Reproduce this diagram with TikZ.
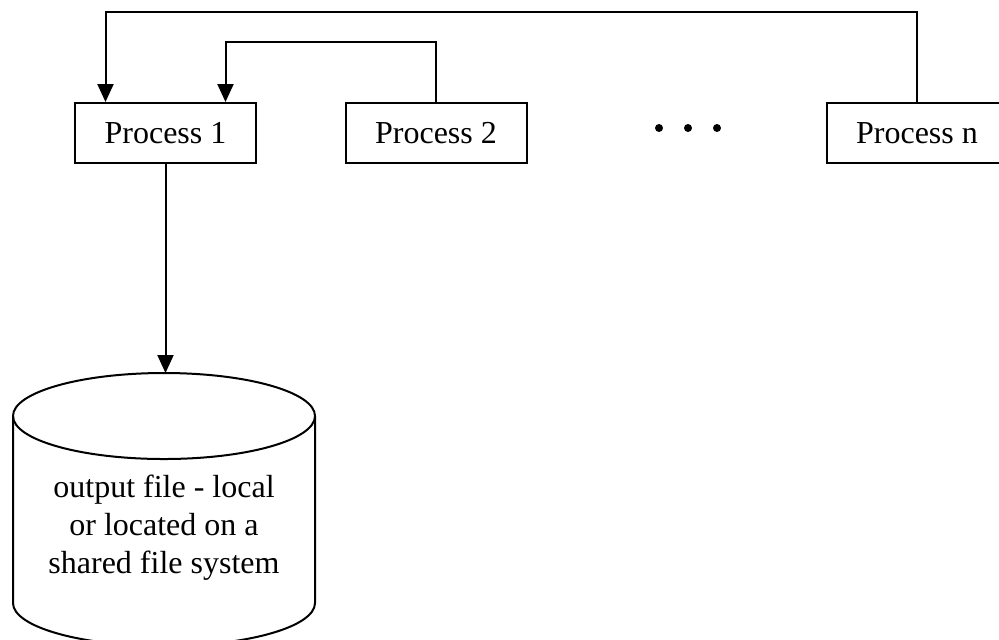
\documentclass[tikz,border=0pt]{standalone}
\usepackage{fontspec}
\setmainfont{Liberation Serif}
\usetikzlibrary{arrows.meta}

\tikzset{
  proc/.style={draw, line width=1pt, minimum width=90.5pt, minimum height=30pt,
    inner sep=0pt, font=\fontsize{16}{19}\selectfont},
  link/.style={line width=1pt, -{Triangle[length=9pt,width=8pt]}},
  store/.style={align=center, font=\fontsize{16}{19}\selectfont}
}

\begin{document}
\begin{tikzpicture}[x=0.5pt, y=-0.5pt]
      \useasboundingbox (0,0) rectangle (999,639);
      \clip (0,0) rectangle (999,639);

      \node[proc] (p1) at (165.5,133) {Process 1};
      \node[proc] (p2) at (436,133) {Process 2};
      \node[proc] (pn) at (917,133) {Process n};

      \fill (659,128) circle (2pt);
      \fill (688,128) circle (2pt);
      \fill (717,128) circle (2pt);

      \draw[link] (pn.north) -- ++(0,-90) -| ([xshift=-30pt]p1.north);
      \draw[link] (p2.north) -- ++(0,-60) -| ([xshift=30pt]p1.north);

      % the output file
      \draw[line width=1pt] (164,416) ellipse [x radius=75.5pt, y radius=21.5pt];
      \draw[line width=1pt] (13,416) -- (13,603)
        arc[start angle=180, end angle=360, x radius=75.5pt, y radius=21.5pt]
        -- (315,416);
      \coordinate (storetop) at (164,373);
      \node[store] (out) at (164,528) {output file - local\\or located on a\\shared file system};

      \draw[link] (p1.south) -- (p1.south |- storetop);
\end{tikzpicture}
\end{document}
